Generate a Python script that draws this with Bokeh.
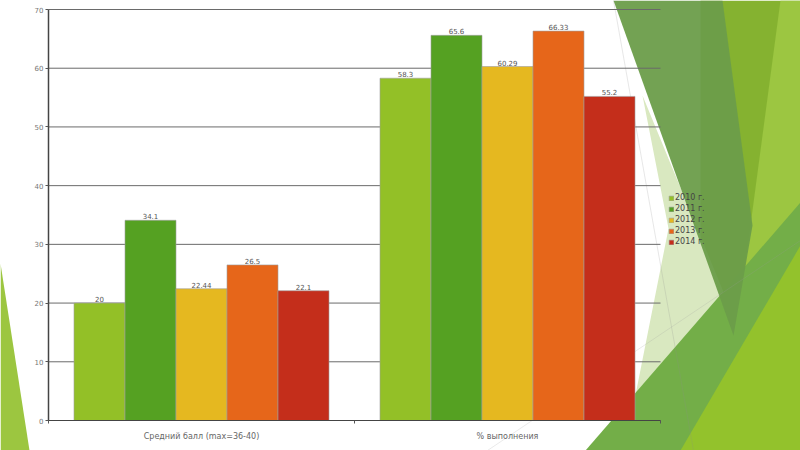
from bokeh.plotting import figure
from bokeh.models import (PolyAnnotation, FixedTicker, Legend, LegendItem,
                          Range1d, ColumnDataSource)
from bokeh.core.properties import value
from bokeh.embed import file_html
from bokeh.resources import INLINE

categories = ["Средний балл (max=36-40)", "% выполнения"]
years = ["2010 г.", "2011 г.", "2012 г.", "2013 г.", "2014 г."]
v2010 = [20, 58.3]
v2011 = [34.1, 65.6]
v2012 = [22.44, 60.29]
v2013 = [26.5, 66.33]
v2014 = [22.1, 55.2]
series = [v2010, v2011, v2012, v2013, v2014]
colors = ["#93c027", "#55a122", "#e5b820", "#e6661a", "#c42e1b"]
y_ticks = [0, 10, 20, 30, 40, 50, 60, 70]

FONT = "DejaVu Sans"
W, H = 800, 450
# frame covers the whole canvas; data 0..2 -> x 48..660, 0..70 -> y 420..9
px_x = 612 / 2
px_y = 411 / 70
x_range = Range1d(-48 / px_x, 2 + (W - 660) / px_x)
y_range = Range1d(-(H - 420) / px_y, 70 + 9 / px_y)

p = figure(width=W, height=H, output_backend="svg", toolbar_location=None,
           x_range=x_range, y_range=y_range, min_border=0)
p.background_fill_color = "white"
p.border_fill_color = "white"
p.outline_line_color = None

# slide background decorations (screen coords, y measured upward)
def deco(pts, fill, alpha=1.0, line=None, lw=0.8):
    xs = [a for a, b in pts]
    ys = [H - b for a, b in pts]
    ann = PolyAnnotation(xs=xs, ys=ys, xs_units="screen", ys_units="screen",
                         fill_color=fill, fill_alpha=alpha if fill else 0,
                         line_color=line, line_width=lw, level="image")
    p.add_layout(ann)

deco([(0, 263), (29, 450), (0, 450)], "#9cc640")
deco([(700, 0), (800, 0), (800, 450), (700, 450)], "#85b230")
deco([(780, 0), (800, 0), (800, 450), (720, 450)], "#9cc641")
deco([(642, 95), (745, 345), (624, 450), (668, 228)], "#d9e8c0")
deco([(585, 450), (800, 202), (800, 450)], "#73ae48")
deco([(680, 450), (800, 245), (800, 450)], "#93c22c")
deco([(613, 0), (722, 0), (752, 225), (733, 335)], "#6b9d4a", 0.95)
deco([(613, 0), (693, 450)], None, line="#8a8a8a", lw=0.7)
deco([(487, 450), (800, 240)], None, line="#9a9a9a", lw=0.7)

# horizontal grid lines over the category span
p.xgrid.grid_line_color = None
p.ygrid.grid_line_color = None
p.segment(x0=[0] * len(y_ticks), x1=[len(categories)] * len(y_ticks),
          y0=y_ticks, y1=y_ticks, line_color="#6a6a6a", line_width=1)

items = []
for i, (yr, vals, col) in enumerate(zip(years, series, colors)):
    xs = [c + 0.5 + (i - 2) / 6 for c in range(len(categories))]
    src = ColumnDataSource(dict(x=xs, top=vals, lab=[str(v) for v in vals]))
    r = p.vbar(x="x", top="top", width=1 / 6, source=src, fill_color=col,
               line_color="#a0a0a0", line_width=0.6)
    p.text(x="x", y="top", text="lab", source=src, text_align="center",
           text_baseline="bottom", y_offset=-1, text_font_size="7px",
           text_color="#555555", text_font=value(FONT))
    items.append(LegendItem(label=yr, renderers=[r]))

legend = Legend(items=items, location=(668, 204), glyph_width=6, glyph_height=6,
                label_height=8, spacing=2, padding=0, margin=0,
                label_standoff=1, label_text_font_size="8px",
                label_text_color="#444444", label_text_font=FONT,
                background_fill_alpha=0, border_line_color=None)
p.add_layout(legend)

xa = p.xaxis[0]
xa.fixed_location = 0
xa.bounds = (0, len(categories))
xa.ticker = FixedTicker(ticks=[0.5, 1.5], minor_ticks=[0, 1, 2])
xa.major_label_overrides = {0.5: categories[0], 1.5: categories[1]}
xa.major_tick_line_color = None
xa.minor_tick_in = 0
xa.minor_tick_out = 3
xa.minor_tick_line_color = "#555555"
xa.axis_line_color = "#444444"
xa.major_label_text_font_size = "8px"
xa.major_label_text_color = "#666666"
xa.major_label_text_font = FONT
xa.major_label_standoff = 5

ya = p.yaxis[0]
ya.fixed_location = 0
ya.bounds = (0, 70)
ya.ticker = FixedTicker(ticks=y_ticks)
ya.major_tick_in = 0
ya.major_tick_out = 3
ya.minor_tick_line_color = None
ya.major_tick_line_color = "#555555"
ya.axis_line_color = "#444444"
ya.axis_line_width = 1.5
ya.major_label_text_font_size = "7px"
ya.major_label_text_color = "#777777"
ya.major_label_text_font = FONT
ya.major_label_standoff = 2

open("out.html", "w").write(file_html(p, INLINE))
